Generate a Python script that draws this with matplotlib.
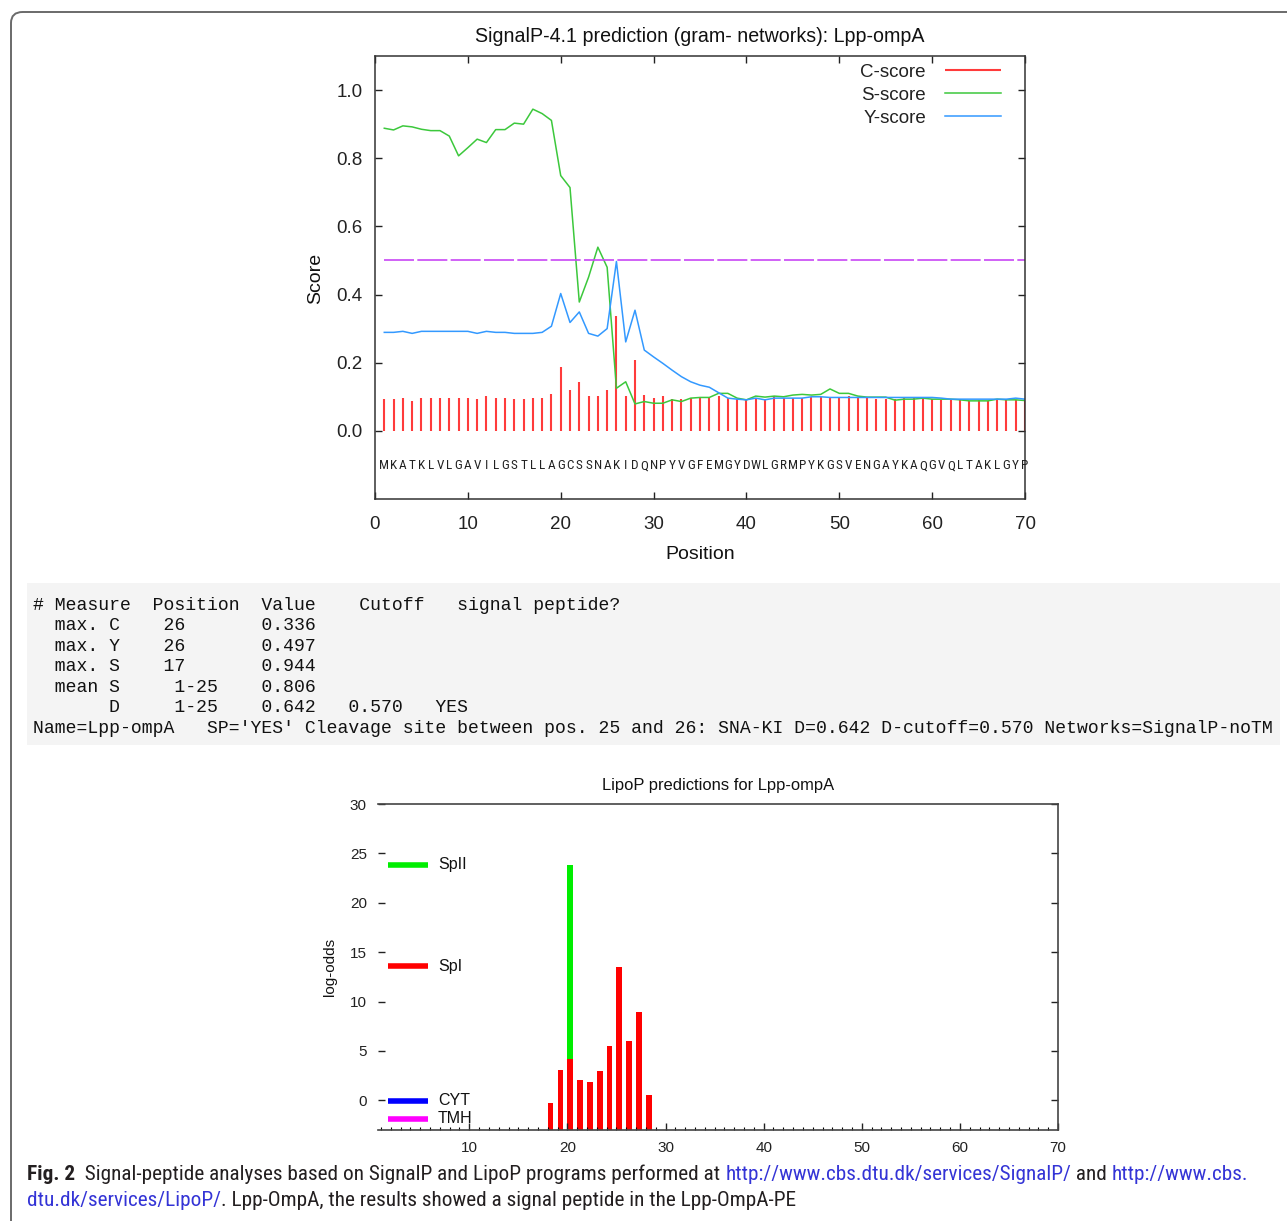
"""SignalP-4.1 and LipoP prediction panels for Lpp-ompA (Fig. 2)."""
import numpy as np
import matplotlib
matplotlib.use("Agg")
import matplotlib.pyplot as plt
from matplotlib import font_manager
from matplotlib.patches import FancyBboxPatch, Rectangle


def pick_font(names):
    for name in names:
        try:
            font_manager.findfont(name, fallback_to_default=False)
            return name
        except ValueError:
            pass
    return "DejaVu Sans"


SANS = pick_font(["Liberation Sans", "Arial", "DejaVu Sans"])
NARROW = pick_font(["Liberation Sans Narrow", "Roboto Condensed", "Liberation Sans"])
MONO = pick_font(["Liberation Mono", "DejaVu Sans Mono"])

# ---------------- data: SignalP ----------------
sequence = "MKATKLVLGAVILGSTLLAGCSSNAKIDQNPYVGFEMGYDWLGRMPYKGSVENGAYKAQGVQLTAKLGYP"
positions = np.arange(1, len(sequence) + 1)

c_score = [0.093, 0.093, 0.097, 0.089, 0.097, 0.097, 0.097, 0.097, 0.097, 0.097,
           0.093, 0.101, 0.097, 0.097, 0.093, 0.093, 0.097, 0.097, 0.108, 0.188,
           0.120, 0.144, 0.101, 0.101, 0.120, 0.336, 0.101, 0.208, 0.105, 0.097,
           0.101, 0.093, 0.093, 0.097, 0.097, 0.097, 0.101, 0.096, 0.093, 0.093,
           0.096, 0.093, 0.101, 0.097, 0.096, 0.096, 0.098, 0.098, 0.098, 0.098,
           0.101, 0.096, 0.096, 0.093, 0.093, 0.093, 0.096, 0.096, 0.097, 0.093,
           0.091, 0.093, 0.093, 0.089, 0.091, 0.089, 0.093, 0.093, 0.091, 0.091]

s_score = [0.888, 0.883, 0.895, 0.892, 0.885, 0.881, 0.881, 0.865, 0.807, 0.831,
           0.856, 0.846, 0.884, 0.884, 0.903, 0.900, 0.944, 0.931, 0.911, 0.749,
           0.714, 0.378, 0.451, 0.539, 0.480, 0.125, 0.144, 0.079, 0.086, 0.081,
           0.081, 0.091, 0.086, 0.096, 0.098, 0.098, 0.110, 0.110, 0.096, 0.091,
           0.102, 0.099, 0.102, 0.100, 0.105, 0.107, 0.105, 0.107, 0.123, 0.110,
           0.110, 0.102, 0.099, 0.099, 0.099, 0.090, 0.093, 0.093, 0.096, 0.093,
           0.093, 0.093, 0.091, 0.088, 0.088, 0.088, 0.093, 0.091, 0.091, 0.089]

y_score = [0.289, 0.289, 0.292, 0.286, 0.292, 0.292, 0.292, 0.292, 0.292, 0.292,
           0.286, 0.292, 0.289, 0.289, 0.286, 0.286, 0.286, 0.289, 0.307, 0.403,
           0.318, 0.349, 0.286, 0.278, 0.300, 0.497, 0.261, 0.354, 0.237, 0.217,
           0.198, 0.178, 0.159, 0.144, 0.134, 0.128, 0.112, 0.096, 0.093, 0.091,
           0.096, 0.091, 0.096, 0.096, 0.096, 0.096, 0.100, 0.100, 0.098, 0.098,
           0.098, 0.098, 0.098, 0.098, 0.098, 0.098, 0.098, 0.098, 0.098, 0.098,
           0.096, 0.093, 0.093, 0.093, 0.093, 0.093, 0.093, 0.093, 0.096, 0.093]

threshold = 0.5

table_lines = [
    "# Measure  Position  Value    Cutoff   signal peptide?",
    "  max. C    26       0.336",
    "  max. Y    26       0.497",
    "  max. S    17       0.944",
    "  mean S     1-25    0.806",
    "       D     1-25    0.642   0.570   YES",
    "Name=Lpp-ompA   SP='YES' Cleavage site between pos. 25 and 26: SNA-KI "
    "D=0.642 D-cutoff=0.570 Networks=SignalP-noTM",
]

# ---------------- data: LipoP ----------------
lipo_pos = [18, 19, 20, 21, 22, 23, 24, 25, 26, 27, 28]
spi_score = [-0.3, 3.1, 4.2, 2.05, 1.9, 3.0, 5.55, 13.5, 5.96, 8.9, 0.57]
spii_pos = [20]
spii_score = [23.8]

W, H = 1287, 1221
fig = plt.figure(figsize=(W / 100, H / 100), dpi=100)


def fx(px):
    return px / W


def fy(py):
    return 1 - py / H


# outer rounded frame (runs off the right and bottom edges)
fig.patches.append(FancyBboxPatch((fx(11), -0.05), 1.2, fy(12) + 0.05,
                                  boxstyle="round,pad=0,rounding_size=0.009",
                                  transform=fig.transFigure, fill=False,
                                  ec="#6a6a6a", lw=1.4, zorder=0))

# ---------------- SignalP panel ----------------
ax = fig.add_axes([fx(375), fy(499), fx(1025) - fx(375), fy(56) - fy(499)])
ax.vlines(positions, 0, c_score, color="#ff3b3b", lw=1.5, label="C-score")
ax.plot(positions, s_score, color="#3cc83c", lw=1.1, label="S-score")
ax.plot(positions, y_score, color="#3399ff", lw=1.1, label="Y-score")
ax.plot([positions[0], positions[-1]], [threshold, threshold], color="#c847f5",
        lw=1.2, linestyle=(0, (18, 2)))
for p, aa in zip(positions, sequence):
    ax.text(p, -0.102, aa, ha="center", va="center", fontsize=9.5,
            family=NARROW, color="#222222")

ax.set_xlim(0, 70)
ax.set_ylim(-0.2, 1.1)
ax.set_xticks(range(0, 71, 10))
ax.set_yticks(np.arange(0, 1.01, 0.2))
ax.set_yticklabels([f"{v:.1f}" for v in np.arange(0, 1.01, 0.2)])
ax.tick_params(direction="in", length=5, width=1, top=True, right=True,
               labelsize=13.5, colors="#222222")
ax.tick_params(axis="x", pad=12)
ax.tick_params(axis="y", pad=9)
for lab in ax.get_xticklabels() + ax.get_yticklabels():
    lab.set_family(SANS)
for sp in ax.spines.values():
    sp.set_color("#333333")
    sp.set_linewidth(1.1)
ax.set_title("SignalP-4.1 prediction (gram- networks): Lpp-ompA",
             fontsize=14.1, family=SANS, pad=10, color="#111111")
ax.set_xlabel("Position", fontsize=14, family=SANS, color="#111111")
ax.set_ylabel("Score", fontsize=14, family=SANS, color="#111111")
ax.xaxis.set_label_coords(0.5, -0.125)
ax.xaxis.label.set_va("center")
ax.yaxis.set_label_coords(-0.091, 0.497)
ax.yaxis.label.set_va("center")
leg = ax.legend(loc="upper right", bbox_to_anchor=(0.963, 0.983),
                markerfirst=False, frameon=False,
                handlelength=3.0, handletextpad=1.0, labelspacing=0.32,
                borderpad=0, borderaxespad=0, prop={"family": SANS, "size": 13.5})
for t in leg.get_texts():
    t.set_color("#222222")

# ---------------- SignalP summary text ----------------
fig.patches.append(Rectangle((fx(27), fy(745)), fx(1280) - fx(27), fy(583) - fy(745),
                             transform=fig.transFigure, fc="#f4f4f4", ec="none", zorder=0))
for i, line in enumerate(table_lines):
    fig.text(fx(33), fy(605 + i * 20.6), line, family=MONO, fontsize=13.05,
             va="center", ha="left", color="#111111")

# ---------------- LipoP panel ----------------
ax2 = fig.add_axes([fx(378), fy(1130), fx(1058) - fx(378), fy(804) - fy(1130)])
ax2.bar(spii_pos, [v + 3 for v in spii_score], bottom=-3, width=0.58,
        align="edge", color="#00ee00", linewidth=0)
ax2.bar(lipo_pos, [v + 3 for v in spi_score], bottom=-3, width=0.58,
        align="edge", color="#ff0000", linewidth=0)
ax2.set_xlim(0.7, 70)
ax2.set_ylim(-3, 30)
ax2.set_xticks(range(10, 71, 10))
ax2.set_xticks(range(1, 71), minor=True)
ax2.set_yticks(range(0, 31, 5))
ax2.tick_params(direction="in", length=5, width=1, right=True,
                labelsize=11, colors="#222222")
ax2.tick_params(axis="x", which="minor", direction="in", length=2.5, width=0.8)
ax2.tick_params(axis="x", pad=8)
ax2.tick_params(axis="y", pad=8)
for lab in ax2.get_xticklabels() + ax2.get_yticklabels():
    lab.set_family(SANS)
ax2.spines["left"].set_visible(False)
for name in ("top", "right", "bottom"):
    ax2.spines[name].set_color("#444444")
    ax2.spines[name].set_linewidth(1.2)
ax2.set_title("LipoP predictions for Lpp-ompA", fontsize=11.9, family=SANS,
              pad=10, color="#111111")
ax2.set_ylabel("log-odds", fontsize=11, family=SANS, color="#111111")
ax2.yaxis.set_label_coords(-0.07, 0.5)
ax2.yaxis.label.set_va("center")

lipo_legend = [("SpII", "#00ee00", 0.813), ("SpI", "#ff0000", 0.503),
               ("CYT", "#0000ff", 0.089), ("TMH", "#ff00ff", 0.034)]
for name, col, yy in lipo_legend:
    ax2.plot([0.0147, 0.0735], [yy, yy], transform=ax2.transAxes, color=col,
             lw=4, solid_capstyle="butt")
    ax2.text(0.088, yy, name, transform=ax2.transAxes, fontsize=11.5,
             family=SANS, va="center", ha="left", color="#111111")

# ---------------- caption ----------------
BLUE = "#3434d6"
TXT = "#231f20"
cap_lines = [
    [("Fig. 2", "bold", TXT),
     ("  Signal-peptide analyses based on SignalP and LipoP programs performed at ", "normal", TXT),
     ("http://www.cbs.dtu.dk/services/SignalP/", "normal", BLUE),
     (" and ", "normal", TXT),
     ("http://www.cbs.", "normal", BLUE)],
    [("dtu.dk/services/LipoP/", "normal", BLUE),
     (". Lpp-OmpA, the results showed a signal peptide in the Lpp-OmpA-PE", "normal", TXT)],
]
cap_y = [1174, 1201]
renderer = fig.canvas.get_renderer()


def draw_runs(runs, y, size):
    x = fx(27)
    made = []
    for s, wt, col in runs:
        t = fig.text(x, y, s, fontsize=size, weight=wt, color=col,
                     family=NARROW, va="center", ha="left")
        x += t.get_window_extent(renderer=renderer).width / W
        made.append(t)
    return made, x


# fit the first line to its width in the reference
trial, xend = draw_runs(cap_lines[0], fy(cap_y[0]), 14)
width_px = (xend - fx(27)) * W
for t in trial:
    t.remove()
cap_size = 14 * 1233 / width_px
for runs, yy in zip(cap_lines, cap_y):
    draw_runs(runs, fy(yy), cap_size)

fig.savefig("out.png", dpi=100)
